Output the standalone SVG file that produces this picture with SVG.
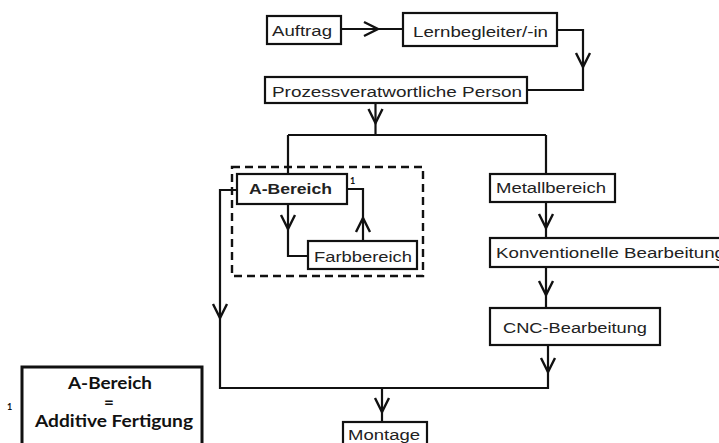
<svg xmlns="http://www.w3.org/2000/svg" width="719" height="443" viewBox="0 0 719 443">
<style>
.box{fill:#fff;stroke:#111;stroke-width:2.2}
.ln{fill:none;stroke:#111;stroke-width:2.2}
.ch{fill:none;stroke:#111;stroke-width:2.4;stroke-linejoin:miter}
.t{font-family:"Liberation Sans",Arial,sans-serif;font-size:15.5px;fill:#222}
.b{font-weight:bold}
.lg{font-family:Lato,"Open Sans",sans-serif;font-weight:bold;font-size:17px;fill:#111}
.sup{font-family:Lato,"Liberation Sans",sans-serif;font-weight:bold;font-size:9px;fill:#111}
</style>
<defs>
<path id="chev" d="M-7,-14 L0,0 L7,-14"/>
</defs>
<rect width="719" height="443" fill="#fff"/>
<g id="connectors">
<path class="ln" d="M341,29 H403"/>
<path class="ln" d="M557,30 H583 V90 H527"/>
<path class="ln" d="M375.5,103 V135"/>
<path class="ln" d="M288,135 H546 M288,135 V174 M546,135 V174"/>
<path class="ln" d="M288,204 V256 H308"/>
<path class="ln" d="M363,241 V189 H347"/>
<path class="ln" d="M237,190 H220 V388 H548 V345"/>
<path class="ln" d="M546,202 V238 M546,267 V308"/>
<path class="ln" d="M382,388 V422"/>
<g class="ch">
<use href="#chev" transform="translate(378,29) rotate(-90)"/>
<use href="#chev" transform="translate(583,67)"/>
<use href="#chev" transform="translate(375.5,123)"/>
<use href="#chev" transform="translate(288,229)"/>
<use href="#chev" transform="translate(363,218) rotate(180)"/>
<use href="#chev" transform="translate(220,318)"/>
<use href="#chev" transform="translate(546,228)"/>
<use href="#chev" transform="translate(546,295)"/>
<use href="#chev" transform="translate(548,372)"/>
<use href="#chev" transform="translate(382,412)"/>
</g>
</g>
<g id="group-a">
<rect x="232" y="167" width="191" height="109" fill="none" stroke="#111" stroke-width="2.4" stroke-dasharray="8,5"/>
</g>
<g id="auftrag"><rect class="box" x="267" y="16" width="74" height="28"/><text class="t" x="272" y="36" textLength="60" lengthAdjust="spacingAndGlyphs">Auftrag</text></g>
<g id="lernbegleiter"><rect class="box" x="403" y="13" width="154" height="33"/><text class="t" x="413" y="36.5" textLength="135" lengthAdjust="spacingAndGlyphs">Lernbegleiter/-in</text></g>
<g id="prozess"><rect class="box" x="265" y="77" width="262" height="26"/><text class="t" x="272" y="96.5" textLength="250" lengthAdjust="spacingAndGlyphs">Prozessveratwortliche Person</text></g>
<g id="a-bereich"><rect class="box" x="237" y="174" width="110" height="30"/><text class="t b" x="249" y="194" textLength="83" lengthAdjust="spacingAndGlyphs">A-Bereich</text><text class="sup" x="350" y="184">1</text></g>
<g id="farbbereich"><rect class="box" x="308" y="241" width="109" height="28"/><text class="t" x="314" y="262" textLength="98" lengthAdjust="spacingAndGlyphs">Farbbereich</text></g>
<g id="metallbereich"><rect class="box" x="490" y="174" width="125" height="28"/><text class="t" x="496" y="193" textLength="110" lengthAdjust="spacingAndGlyphs">Metallbereich</text></g>
<g id="konventionell"><rect class="box" x="490" y="238" width="235" height="29"/><text class="t" x="496" y="258" textLength="229" lengthAdjust="spacingAndGlyphs">Konventionelle Bearbeitung</text></g>
<g id="cnc"><rect class="box" x="490" y="308" width="170" height="37"/><text class="t" x="503" y="333" textLength="144" lengthAdjust="spacingAndGlyphs">CNC-Bearbeitung</text></g>
<g id="montage"><rect class="box" x="343" y="422" width="84" height="30"/><text class="t" x="348" y="440" textLength="72" lengthAdjust="spacingAndGlyphs">Montage</text></g>
<g id="legend">
<rect x="22" y="367" width="180" height="90" fill="#fff" stroke="#111" stroke-width="3"/>
<text class="lg" x="68" y="389" textLength="84" lengthAdjust="spacingAndGlyphs">A-Bereich</text>
<text class="lg" x="109" y="408" text-anchor="middle">=</text>
<text class="lg" x="35" y="427" textLength="158" lengthAdjust="spacingAndGlyphs">Additive Fertigung</text>
<text class="sup" x="7" y="410">1</text>
</g>
</svg>
